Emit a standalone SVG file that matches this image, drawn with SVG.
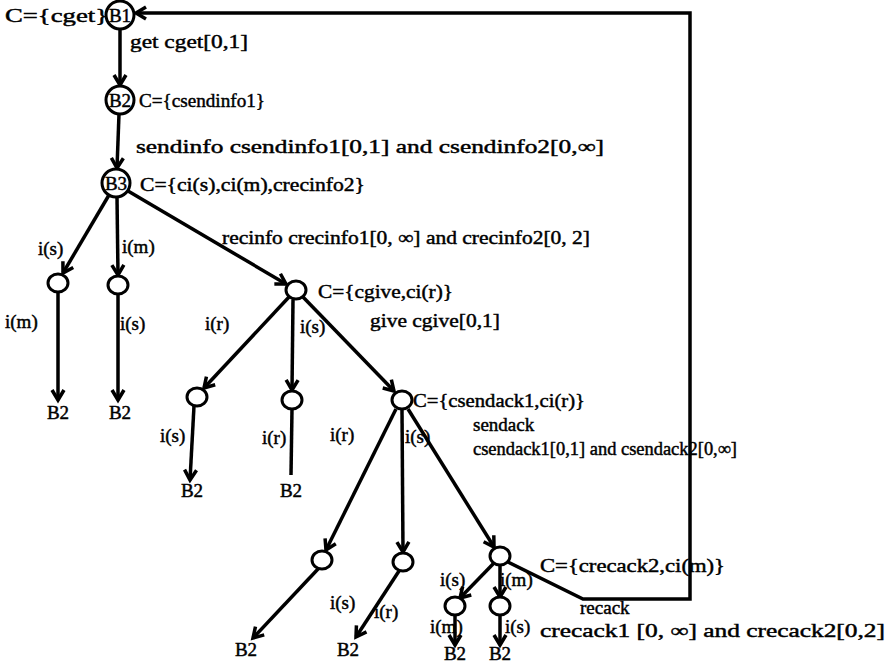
<svg xmlns="http://www.w3.org/2000/svg" width="894" height="663" viewBox="0 0 894 663">
<defs>
<marker id="arr" markerUnits="userSpaceOnUse" markerWidth="20" markerHeight="20" refX="0" refY="0" viewBox="-12 -10 14 20" orient="auto">
<path d="M-10,-6 L0,0 L-10,6" fill="none" stroke="#000" stroke-width="3.5" stroke-linejoin="miter"/>
</marker>
</defs>
<style>
text{font-family:"Liberation Serif","DejaVu Serif",serif;font-size:19px;fill:#000;stroke:#000;stroke-width:0.45}
.n{fill:#fff;stroke:#000;stroke-width:3}
.e{fill:none;stroke:#000;stroke-width:3.5;marker-end:url(#arr)}
.p{fill:none;stroke:#000;stroke-width:3.5}
</style>
<rect width="894" height="663" fill="#fff"/>
<g id="connectors">
<line class="e" x1="120" y1="29" x2="120" y2="85"/>
<line class="e" x1="119" y1="114" x2="117" y2="168"/>
<line class="e" x1="109" y1="195" x2="63" y2="273"/>
<line class="e" x1="117" y1="197" x2="118" y2="275"/>
<line class="e" x1="128" y1="191" x2="286" y2="284"/>
<line class="e" x1="58" y1="292" x2="58" y2="400"/>
<line class="e" x1="118" y1="294" x2="118" y2="400"/>
<line class="e" x1="289" y1="297" x2="204" y2="388"/>
<line class="e" x1="293" y1="300" x2="292" y2="390"/>
<line class="e" x1="303" y1="297" x2="394" y2="391"/>
<line class="e" x1="194" y1="406" x2="190" y2="480"/>
<line class="p" x1="292" y1="409" x2="291" y2="475"/>
<line class="e" x1="396" y1="409" x2="326" y2="550"/>
<line class="e" x1="402" y1="410" x2="403" y2="552"/>
<line class="e" x1="408" y1="409" x2="494" y2="547"/>
<line class="e" x1="318" y1="569" x2="253" y2="638"/>
<line class="e" x1="399" y1="571" x2="356" y2="637"/>
<line class="e" x1="494" y1="563" x2="460" y2="598"/>
<line class="e" x1="500" y1="565" x2="500" y2="597"/>
<line class="e" x1="455" y1="615" x2="455" y2="645"/>
<line class="e" x1="500" y1="615" x2="500" y2="645"/>
<polyline class="e" points="508,562 583,599 690,599 690,13 136,13"/>
</g>
<g id="B1"><circle class="n" cx="120" cy="15" r="14"/><text x="120" y="22" text-anchor="middle">B1</text></g>
<g id="B2"><circle class="n" cx="120" cy="100" r="14"/><text x="120" y="107" text-anchor="middle">B2</text></g>
<g id="B3"><circle class="n" cx="116" cy="183" r="14"/><text x="116" y="190" text-anchor="middle">B3</text></g>
<g id="n_is"><ellipse class="n" cx="58" cy="283" rx="10" ry="9"/></g>
<g id="n_im"><ellipse class="n" cx="118" cy="285" rx="10" ry="9"/></g>
<g id="n_cgive"><ellipse class="n" cx="296" cy="290" rx="10" ry="9"/></g>
<g id="n_cgive_ir"><ellipse class="n" cx="197" cy="397" rx="10" ry="9"/></g>
<g id="n_cgive_is"><ellipse class="n" cx="292" cy="400" rx="10" ry="9"/></g>
<g id="n_csendack"><ellipse class="n" cx="402" cy="400" rx="10" ry="9"/></g>
<g id="n_a_ir"><ellipse class="n" cx="322" cy="560" rx="10" ry="9"/></g>
<g id="n_a_is"><ellipse class="n" cx="403" cy="562" rx="10" ry="9"/></g>
<g id="n_crecack"><ellipse class="n" cx="500" cy="556" rx="10" ry="9"/></g>
<g id="n_c_is"><ellipse class="n" cx="455" cy="606" rx="10" ry="9"/></g>
<g id="n_c_im"><ellipse class="n" cx="500" cy="606" rx="10" ry="9"/></g>
<g id="leaf1"><text x="58" y="419" text-anchor="middle">B2</text></g>
<g id="leaf2"><text x="120" y="419" text-anchor="middle">B2</text></g>
<g id="leaf3"><text x="192" y="497" text-anchor="middle">B2</text></g>
<g id="leaf4"><text x="291" y="497" text-anchor="middle">B2</text></g>
<g id="leaf5"><text x="246" y="656" text-anchor="middle">B2</text></g>
<g id="leaf6"><text x="348" y="656" text-anchor="middle">B2</text></g>
<g id="leaf7"><text x="455" y="660" text-anchor="middle">B2</text></g>
<g id="leaf8"><text x="500" y="660" text-anchor="middle">B2</text></g>
<g id="labels">
<text x="5" y="22" textLength="103" lengthAdjust="spacingAndGlyphs">C={cget}</text>
<text x="130" y="48" textLength="118" lengthAdjust="spacingAndGlyphs">get  cget[0,1]</text>
<text x="139" y="107" textLength="126" lengthAdjust="spacingAndGlyphs">C={csendinfo1}</text>
<text x="136" y="153" textLength="468" lengthAdjust="spacingAndGlyphs">sendinfo   csendinfo1[0,1] and csendinfo2[0,∞]</text>
<text x="140" y="191" textLength="225" lengthAdjust="spacingAndGlyphs">C={ci(s),ci(m),crecinfo2}</text>
<text x="38" y="255">i(s)</text>
<text x="122" y="253">i(m)</text>
<text x="222" y="244" textLength="368" lengthAdjust="spacingAndGlyphs">recinfo  crecinfo1[0, ∞] and crecinfo2[0, 2]</text>
<text x="318" y="298" textLength="135" lengthAdjust="spacingAndGlyphs">C={cgive,ci(r)}</text>
<text x="5" y="328">i(m)</text>
<text x="120" y="330">i(s)</text>
<text x="205" y="330">i(r)</text>
<text x="300" y="333">i(s)</text>
<text x="370" y="327" textLength="130" lengthAdjust="spacingAndGlyphs">give   cgive[0,1]</text>
<text x="160" y="442">i(s)</text>
<text x="262" y="444">i(r)</text>
<text x="413" y="407" textLength="172" lengthAdjust="spacingAndGlyphs">C={csendack1,ci(r)}</text>
<text x="330" y="441">i(r)</text>
<text x="405" y="443">i(s)</text>
<text x="473" y="431">sendack</text>
<text x="473" y="455" textLength="264" lengthAdjust="spacingAndGlyphs">csendack1[0,1] and csendack2[0,∞]</text>
<text x="540" y="572" textLength="185" lengthAdjust="spacingAndGlyphs">C={crecack2,ci(m)}</text>
<text x="440" y="586">i(s)</text>
<text x="500" y="586">i(m)</text>
<text x="330" y="609">i(s)</text>
<text x="374" y="618">i(r)</text>
<text x="580" y="614">recack</text>
<text x="540" y="637" textLength="345" lengthAdjust="spacingAndGlyphs">crecack1 [0, ∞] and crecack2[0,2]</text>
<text x="430" y="633">i(m)</text>
<text x="505" y="633">i(s)</text>
</g>
</svg>
